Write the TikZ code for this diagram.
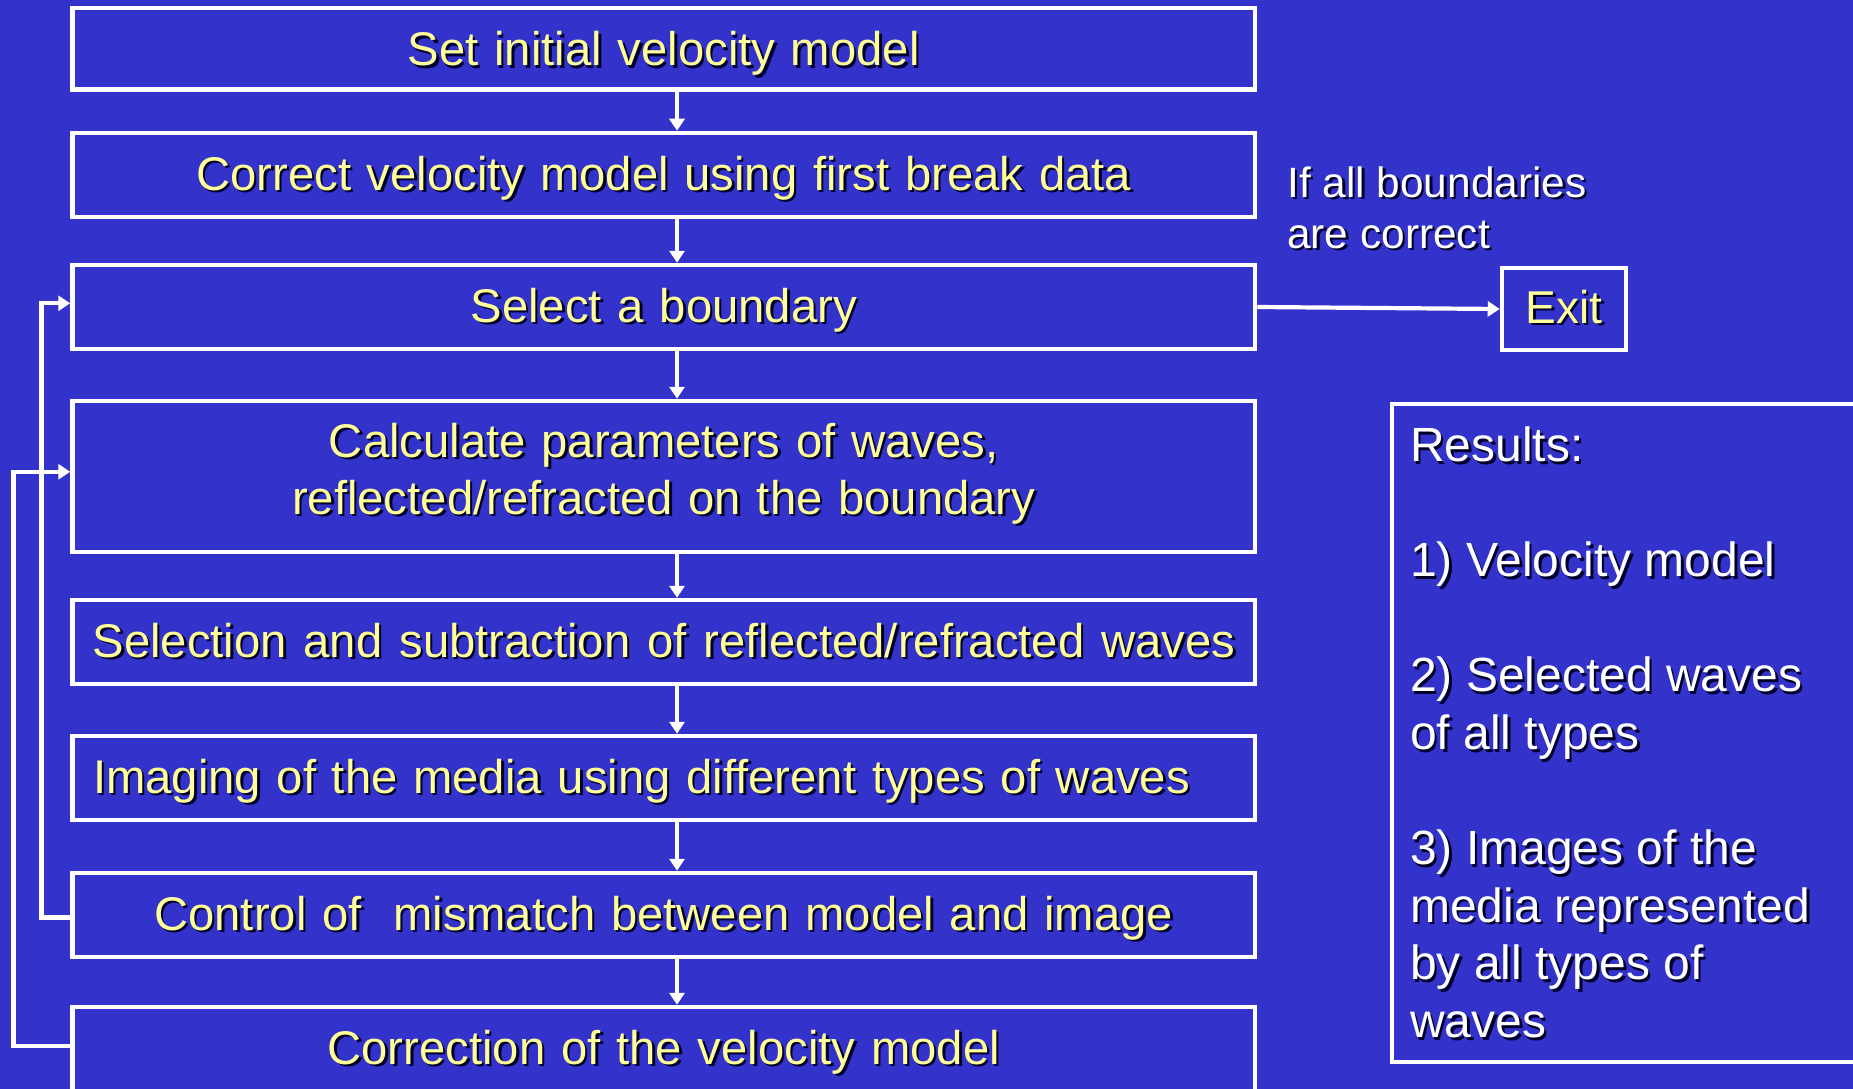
\documentclass[tikz,border=0pt]{standalone}
\usepackage{fontspec}
\setmainfont{Liberation Sans}
\usetikzlibrary{arrows.meta}
\definecolor{bgblue}{RGB}{51,51,204}
\definecolor{txtyellow}{RGB}{255,255,153}
\definecolor{shadowc}{RGB}{0,0,40}
\newcommand\sh[1]{\leavevmode\rlap{\kern2.5pt\raisebox{-2.5pt}{\color{shadowc}#1}}\mbox{#1}}
\begin{document}
\begin{tikzpicture}[x=1pt,y=-1pt,
  basebox/.style={draw=white, line width=4.5pt, minimum width=1182.5pt,
    minimum height=84pt, inner xsep=18.5pt, inner ysep=0pt,
    text width=1145.5pt, align=center, text=txtyellow,
    font=\fontsize{47.25}{57}\selectfont},
  stepbox/.style={basebox, text height=34.5pt, text depth=4.5pt},
  arr/.style={draw=white, line width=4.2pt, -{Triangle[width=15pt,length=12pt]}},
  whitetext/.style={text=white, inner sep=0pt, align=left}
]
\useasboundingbox (0,0) rectangle (1853,1089);
\fill[bgblue] (0,0) rectangle (1853,1089);
\clip (0,0) rectangle (1853,1089);

\coordinate (ax) at (677,0);
\coordinate (lin) at (41.5,0);
\coordinate (lout) at (13.5,0);

\node[stepbox, minimum height=81.5pt, text depth=0.5pt] (b1) at (663.75,48.75) {\sh{Set initial velocity model}};
\node[stepbox] (b2) at (663.75,175) {\sh{Correct velocity model using first break data}};
\node[stepbox] (b3) at (663.75,307) {\sh{Select a boundary}};
\node[basebox, minimum height=151pt] (b4) at (663.75,476.5) {\sh{Calculate parameters of waves,}\\\sh{reflected/refracted on the boundary}\rule[-15.5pt]{0pt}{0pt}};
\node[stepbox, align=left] (b5) at (663.75,642) {\hspace*{1.5pt}\sh{\makebox[1143pt][l]{Selection \hfill and \hfill subtraction \hfill of \hfill reflected/refracted \hfill waves}}};
\node[stepbox, align=left] (b6) at (663.75,778) {\hspace*{2pt}\sh{Imaging of the media using different types of waves}};
\node[stepbox] (b7) at (663.75,915) {\sh{Control of \ mismatch between model and image}};
\node[stepbox] (b8) at (663.75,1049) {\sh{Correction of the velocity model}};

\node[draw=white, line width=4.5pt, minimum width=124pt, minimum height=82pt,
  text=txtyellow, font=\fontsize{46}{55}\selectfont, text height=34.5pt, text depth=6.5pt] (exit) at (1564,309) {\sh{Exit}};

\node[whitetext, anchor=north west, font=\fontsize{42.4}{51}\selectfont] (cond) at (1287,166.5) {\sh{If all boundaries}\\\sh{are correct}};

\node[draw=white, line width=4.5pt, minimum width=600pt, minimum height=658pt] (res) at (1692,733) {};
\node[whitetext, anchor=north west, font=\fontsize{48}{57.6}\selectfont] (restext) at (1410,426.6)
  {\sh{Results:}\\ \\ \sh{1) Velocity model}\\ \\ \sh{2) Selected waves}\\ \sh{of all types}\\ \\
   \sh{3) Images of the}\\ \sh{media represented}\\ \sh{by all types of}\\ \sh{waves}};

\draw[arr] (b1.south -| ax) -- (b2.north -| ax);
\draw[arr] (b2.south -| ax) -- (b3.north -| ax);
\draw[arr] (b3.south -| ax) -- (b4.north -| ax);
\draw[arr] (b4.south -| ax) -- (b5.north -| ax);
\draw[arr] (b5.south -| ax) -- (b6.north -| ax);
\draw[arr] (b6.south -| ax) -- (b7.north -| ax);
\draw[arr] (b7.south -| ax) -- (b8.north -| ax);

\draw[arr] (b3.east) -- (exit.west);

\draw[arr] ([yshift=-2.5pt]b7.west) -- ([yshift=-2.5pt]b7.west -| lin) |- ([yshift=3.7pt]b3.west);
\draw[arr] ([yshift=3pt]b8.west) -- ([yshift=3pt]b8.west -| lout) |- ([yshift=4.7pt]b4.west);
\end{tikzpicture}
\end{document}
